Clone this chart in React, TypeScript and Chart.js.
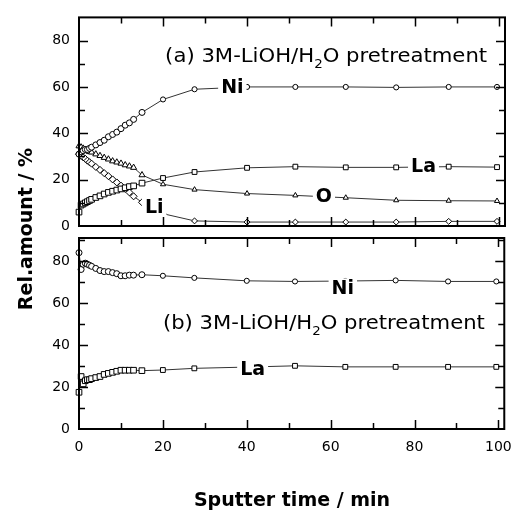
import React, { useEffect, useRef } from "react";
import { Chart, registerables } from "chart.js";

Chart.register(...registerables);

// ---------- data ----------
const times = [0, 0.5, 1, 1.5, 2, 2.5, 3, 4, 5, 6, 7, 8, 9, 10, 11, 12, 13, 15, 20, 27.5, 40, 51.5, 63.5, 75.5, 88, 99.5];

// panel (a)
const niA = [31, 32, 32.5, 33, 33, 33.5, 34, 35, 36, 37, 38.5, 39.5, 40.5, 42, 43.5, 44.5, 46, 49, 54.6, 59, 60, 60, 60, 59.8, 60, 60];
const laA = [6, 9, 9.5, 10, 10.5, 11, 11.5, 12.3, 13, 13.8, 14.5, 15, 15.5, 16, 16.5, 17, 17.3, 18.5, 20.7, 23.3, 25.1, 25.6, 25.3, 25.3, 25.6, 25.4];
const oA = [34.5, 34, 33.5, 33, 32.5, 32, 31.8, 31, 30.3, 29.5, 28.8, 28, 27.5, 27, 26.3, 25.8, 25.2, 22, 18, 15.7, 14, 13.2, 12.2, 11.1, 10.9, 10.8];
const liA = [31, 30.3, 29.6, 29, 28.2, 27.5, 26.9, 25.5, 24.2, 22.8, 21.5, 20.1, 18.8, 17.4, 16, 14.5, 12.8, 10.2, 5.3, 2.2, 1.7, 1.7, 1.7, 1.7, 2, 2];

// panel (b)
const niB = [84, 76, 78.5, 79, 78.5, 78, 77.5, 76.5, 75.5, 75, 75, 74.5, 74, 73, 73, 73.3, 73.3, 73.5, 73, 72, 70.6, 70.3, 70.5, 70.8, 70.3, 70.3];
const laB = [17.5, 25, 21.5, 23, 23.5, 23.5, 24, 24.5, 25, 26, 26.5, 27, 27.5, 28, 28, 28, 28, 27.8, 28.1, 28.9, 29.5, 30.1, 29.6, 29.6, 29.6, 29.6];

const yTicks = [0, 20, 40, 60, 80];
const xTicks = [0, 20, 40, 60, 80, 100];
const xMin = 0;
const xMax = 101.4;
const yMaxA = 90;
const yMaxB = 91;
const minorStep = 10;

const titleA = "(a)";
const titleB = "(b)";
const titleMain = "3M-LiOH/H";
const titleSub = "2";
const titleTail = "O pretreatment";
const xTitle = "Sputter time / min";
const yTitle = "Rel.amount / %";

// series label text + anchor (data coordinates)
const labelsA = [
  { text: "Ni", x: 36.5, y: 59.5 },
  { text: "La", x: 82, y: 25.4 },
  { text: "O", x: 58.3, y: 12.4 },
  { text: "Li", x: 17.9, y: 7.7 },
];
const labelsB = [
  { text: "Ni", x: 62.9, y: 66.5 },
  { text: "La", x: 41.4, y: 28.1 },
];

const FONT = '"DejaVu Sans", "Liberation Sans", sans-serif';

function pts(ys: number[]) {
  return times.map((t, i) => ({ x: t, y: ys[i] }));
}

function ds(label: string, ys: number[], style: any, radius: number) {
  return {
    label,
    data: pts(ys),
    pointStyle: style,
    pointRadius: (c: any) => (c.dataIndex < 18 ? radius : radius * 0.85),
    pointBorderColor: "#000",
    pointBackgroundColor: "#fff",
    pointBorderWidth: 1,
    borderColor: "#333",
    borderWidth: 1,
    tension: 0,
    clip: false as any,
  };
}

function drawTitle(ctx: CanvasRenderingContext2D, prefix: string, x: number, yBase: number, target: number) {
  const main = `19px ${FONT}`;
  const sub = `12px ${FONT}`;
  const parts = [
    { t: prefix + " " + titleMain, f: main, dy: 0 },
    { t: titleSub, f: sub, dy: 6 },
    { t: titleTail, f: main, dy: 0 },
  ];
  let w = 0;
  for (const p of parts) {
    ctx.font = p.f;
    w += ctx.measureText(p.t).width;
  }
  const s = target / w;
  ctx.save();
  ctx.translate(x, yBase);
  ctx.scale(s, 1);
  ctx.fillStyle = "#000";
  ctx.textBaseline = "alphabetic";
  ctx.textAlign = "left";
  let cx = 0;
  for (const p of parts) {
    ctx.font = p.f;
    ctx.fillText(p.t, cx, p.dy);
    cx += ctx.measureText(p.t).width;
  }
  ctx.restore();
}

function makePlugin(labels: { text: string; x: number; y: number }[], prefix: string, titleX: number, titleY: number, isBottom: boolean) {
  return {
    id: "panelDecor",
    afterDatasetsDraw(chart: any) {
      const ctx: CanvasRenderingContext2D = chart.ctx;
      const { left, right, top, bottom } = chart.chartArea;
      const xs = chart.scales.x;
      const ys = chart.scales.y;
      ctx.save();
      // series labels with white background
      ctx.font = `bold 19px ${FONT}`;
      ctx.textAlign = "center";
      ctx.textBaseline = "middle";
      for (const l of labels) {
        const px = xs.getPixelForValue(l.x);
        const py = ys.getPixelForValue(l.y);
        const w = ctx.measureText(l.text).width;
        ctx.fillStyle = "#fff";
        ctx.fillRect(px - w / 2 - 3, py - 11, w + 6, 20);
        ctx.fillStyle = "#000";
        ctx.fillText(l.text, px, py);
      }
      // panel title
      drawTitle(ctx, prefix, xs.getPixelForValue(titleX), ys.getPixelForValue(titleY), 322);

      // frame
      ctx.strokeStyle = "#000";
      ctx.lineWidth = 2;
      ctx.strokeRect(left, top, right - left, bottom - top);
      // inward ticks
      ctx.lineWidth = 1.5;
      ctx.beginPath();
      for (let v = minorStep; v < ys.max; v += minorStep) {
        const py = Math.round(ys.getPixelForValue(v)) + 0.5;
        const len = v % 20 === 0 ? 9 : 6;
        ctx.moveTo(left, py);
        ctx.lineTo(left + len, py);
        ctx.moveTo(right, py);
        ctx.lineTo(right - len, py);
      }
      for (let v = minorStep; v <= 100; v += minorStep) {
        const px = Math.round(xs.getPixelForValue(v)) + 0.5;
        const len = v % 20 === 0 ? 9 : 6;
        ctx.moveTo(px, top);
        ctx.lineTo(px, top + len);
        ctx.moveTo(px, bottom);
        ctx.lineTo(px, bottom - len);
      }
      ctx.stroke();

      if (isBottom) {
        ctx.fillStyle = "#000";
        ctx.font = `bold 19px ${FONT}`;
        ctx.textAlign = "center";
        ctx.textBaseline = "alphabetic";
        ctx.fillText(xTitle, 292, 506);
        ctx.save();
        ctx.translate(32, 229);
        ctx.rotate(-Math.PI / 2);
        ctx.fillText(yTitle, 0, 0);
        ctx.restore();
      }
      ctx.restore();
    },
  };
}

function makeConfig(datasets: any[], yMax: number, padding: any, isBottom: boolean, plugin: any) {
  return {
    type: "line" as const,
    data: { datasets },
    plugins: [plugin],
    options: {
      animation: false as const,
      responsive: false,
      events: [],
      layout: { padding },
      plugins: { legend: { display: false }, tooltip: { enabled: false } },
      scales: {
        x: {
          type: "linear" as const,
          min: xMin,
          max: xMax,
          display: isBottom,
          grid: { display: false, drawTicks: false },
          border: { display: false },
          afterBuildTicks: (s: any) => {
            s.ticks = xTicks.map((v) => ({ value: v }));
          },
          afterFit: (s: any) => {
            s.height = isBottom ? 83 : 0;
          },
          ticks: {
            color: "#000",
            font: { family: FONT, size: 14 },
            padding: 10,
            maxRotation: 0,
            autoSkip: false,
          },
        },
        y: {
          type: "linear" as const,
          min: 0,
          max: yMax,
          grid: { display: false, drawTicks: false },
          border: { display: false },
          afterBuildTicks: (s: any) => {
            s.ticks = yTicks.map((v) => ({ value: v }));
          },
          afterFit: (s: any) => {
            s.width = 79;
          },
          ticks: {
            color: "#000",
            font: { family: FONT, size: 14 },
            padding: 9,
            autoSkip: false,
          },
        },
      },
    },
  };
}

export default function App() {
  const topRef = useRef<HTMLCanvasElement>(null);
  const botRef = useRef<HTMLCanvasElement>(null);

  useEffect(() => {
    const top = new Chart(
      topRef.current as HTMLCanvasElement,
      makeConfig(
        [
          ds("Ni", niA, "circle", 3),
          ds("La", laA, "rect", 4),
          ds("O", oA, "triangle", 3.5),
          ds("Li", liA, "rectRot", 3.5),
        ],
        yMaxA,
        { left: 0, right: 17, top: 9, bottom: 286 },
        false,
        makePlugin(labelsA, titleA, 20.5, 70.9, false)
      ) as any
    );
    const bot = new Chart(
      botRef.current as HTMLCanvasElement,
      makeConfig(
        [ds("Ni", niB, "circle", 3), ds("La", laB, "rect", 4)],
        yMaxB,
        { left: 0, right: 17, top: 238, bottom: 0 },
        true,
        makePlugin(labelsB, titleB, 20, 47.6, true)
      ) as any
    );
    return () => {
      top.destroy();
      bot.destroy();
    };
  }, []);

  return (
    <div style={{ position: "absolute", left: 0, top: 0, width: 522, height: 512, background: "#fff" }}>
      <canvas ref={topRef} width={522} height={512} style={{ position: "absolute", left: 0, top: 0 }} />
      <canvas ref={botRef} width={522} height={512} style={{ position: "absolute", left: 0, top: 0 }} />
    </div>
  );
}
